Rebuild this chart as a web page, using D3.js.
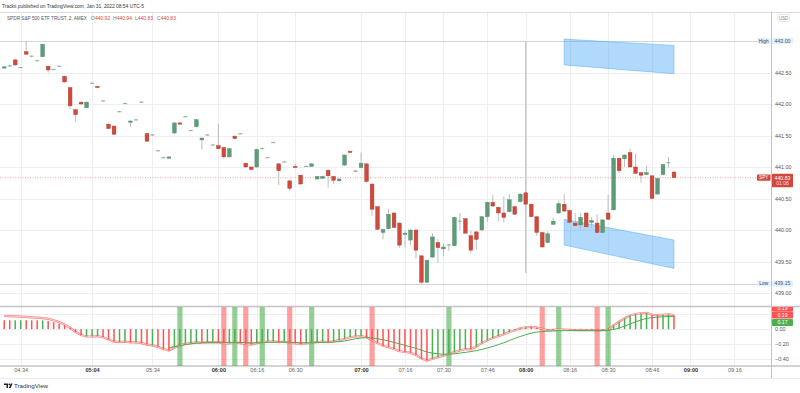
<!DOCTYPE html>
<html><head><meta charset="utf-8">
<script src="https://cdn.jsdelivr.net/npm/d3@7"></script>
<style>body{margin:0;background:#fff}svg{display:block}text{font-family:"Liberation Sans",Arial,sans-serif}</style>
</head><body><svg id="c" width="800" height="393"></svg>
<script>
// ---------- DATA ----------
const opens  = [442.57,442.60,442.70,442.58,442.83,442.76,442.69,442.75,442.60,442.55,442.60,442.44,442.26,441.91,442.03,441.94,442.33,442.28,442.05,441.68,441.65,441.88,442.01,441.71,441.75,442.03,441.53,441.51,441.26,441.15,441.14,441.54,441.70,441.80,441.58,441.64,441.43,441.51,441.35,441.34,441.31,441.16,441.49,441.53,441.06,441.00,441.00,441.29,441.15,441.39,441.05,441.08,440.78,441.01,440.87,441.01,441.01,440.81,440.82,440.95,440.85,440.78,441.03,441.25,440.94,440.99,441.05,440.73,440.37,439.96,440.02,440.27,440.11,439.93,439.84,440.00,439.59,439.17,439.57,439.80,439.70,439.76,439.75,440.14,440.18,439.91,439.97,440.00,440.21,440.44,440.36,440.27,440.29,440.37,440.45,440.59,440.41,440.21,439.96,439.80,440.09,440.27,440.41,440.31,440.11,440.08,440.27,440.12,440.11,439.96,440.27,440.32,441.14,441.13,441.23,441.00,440.91,440.88,440.86,440.57,440.88,441.07,440.92];
const highs  = [442.60,442.62,442.71,442.59,443.00,442.77,442.70,442.95,442.61,442.56,442.61,442.45,442.27,441.92,442.04,442.04,442.34,442.29,442.06,441.69,441.66,441.89,442.02,441.74,441.76,442.04,441.54,441.52,441.27,441.16,441.17,441.71,441.71,441.81,441.59,441.76,441.47,441.52,441.36,441.69,441.32,441.30,441.50,441.54,441.07,441.01,441.29,441.31,441.16,441.40,441.06,441.09,440.79,441.05,440.88,441.02,441.06,440.86,440.86,440.96,440.86,440.82,441.20,441.26,440.95,441.23,441.06,440.74,440.38,440.02,440.34,440.28,440.12,440.00,440.01,440.01,439.60,439.53,439.95,439.86,439.79,439.78,440.21,440.27,440.19,439.99,439.98,440.22,440.45,440.56,440.37,440.53,440.58,440.38,440.58,440.60,440.42,440.22,439.97,439.98,440.20,440.47,440.57,440.32,440.27,440.27,440.28,440.21,440.25,440.17,440.56,441.19,441.15,441.20,441.29,441.21,440.92,441.02,440.87,440.83,441.05,441.16,440.94];
const lows   = [442.56,442.59,442.61,442.57,442.78,442.75,442.68,442.75,442.50,442.54,442.59,442.34,441.92,441.72,441.99,441.93,442.32,442.25,442.04,441.60,441.51,441.87,442.00,441.64,441.74,442.02,441.40,441.50,441.25,441.14,441.13,441.52,441.67,441.79,441.57,441.63,441.28,441.50,441.34,441.28,441.13,441.15,441.44,441.52,440.99,440.95,440.99,441.28,441.14,441.38,440.71,441.07,440.62,440.98,440.72,441.00,441.00,440.80,440.81,440.67,440.73,440.77,441.02,441.22,440.92,440.98,440.75,440.23,440.00,439.85,440.01,440.03,439.72,439.72,439.76,439.55,439.15,439.16,439.56,439.48,439.58,439.67,439.74,440.00,439.94,439.64,439.69,439.99,440.13,440.37,440.14,440.12,440.28,440.24,440.44,440.40,440.20,439.91,439.72,439.79,440.08,440.26,440.29,440.11,440.06,440.01,440.04,440.03,439.95,439.95,440.16,440.31,440.90,441.00,440.99,440.89,440.75,440.87,440.49,440.56,440.87,440.99,440.83];
const closes = [442.59,442.61,442.62,442.585,442.79,442.765,442.695,442.95,442.54,442.555,442.605,442.35,441.97,441.83,442.00,442.03,442.335,442.26,442.055,441.61,441.52,441.885,442.015,441.73,441.755,442.035,441.41,441.515,441.265,441.155,441.16,441.70,441.68,441.805,441.585,441.75,441.46,441.515,441.355,441.29,441.16,441.29,441.45,441.535,441.00,440.96,441.28,441.30,441.155,441.395,440.94,441.085,440.66,440.99,440.73,441.015,441.05,440.85,440.85,440.86,440.79,440.81,441.19,441.23,440.93,441.06,440.77,440.33,440.01,440.01,440.25,440.04,439.76,439.95,440.00,439.68,439.17,439.52,439.89,439.72,439.73,439.77,440.20,440.145,439.95,439.68,439.85,440.21,440.44,440.38,440.27,440.20,440.48,440.25,440.57,440.41,440.21,439.96,439.73,439.94,440.14,440.42,440.30,440.12,440.07,440.20,440.05,440.15,439.96,440.16,440.17,441.14,440.94,441.19,441.00,440.90,440.87,440.91,440.50,440.82,441.04,441.075,440.83];

const oscBars = [0.12,0.12,0.12,0.12,0.12,0.12,0.12,0.12,0.11,0.095,0.075,0.05,0.02,
  -0.04,-0.08,-0.10,-0.10,-0.095,-0.11,-0.14,-0.17,-0.175,-0.17,-0.18,-0.18,-0.19,-0.21,-0.22,-0.24,-0.27,-0.29,
  -0.25,-0.22,-0.20,-0.19,-0.18,-0.185,-0.18,-0.175,-0.18,-0.19,-0.195,-0.185,-0.19,-0.20,-0.21,-0.19,-0.175,-0.17,-0.165,-0.175,-0.17,-0.185,-0.195,-0.205,-0.195,-0.185,-0.175,-0.17,-0.175,-0.165,-0.15,-0.13,-0.11,-0.10,
  -0.095,-0.11,-0.15,-0.19,-0.225,-0.245,-0.27,-0.30,-0.31,-0.32,-0.35,-0.40,-0.425,-0.40,-0.38,-0.36,-0.34,-0.31,-0.29,-0.27,-0.275,-0.235,-0.19,-0.15,-0.12,-0.095,-0.07,-0.04,-0.015,
  0.01,0.025,0.03,0.02,0.005,-0.015,-0.01,-0.005,-0.005,-0.01,-0.015,-0.01,-0.015,-0.01,-0.02,-0.015,-0.01,0.05,0.10,0.145,0.185,0.205,0.215,0.22,0.195,0.19,0.195,0.2,0.19];
const oscBarColors = "rrggrrrgrrrrr" + "rrgggrrrggrgrrgrrr" + "gggggrggrrggrrrggggrgrrrggggrggggg" + "grrrrrrrrrrrrgggggggrgggggggg" + "ggrrrrgggrrgrgrgggggggggrrggr";
const oscLeadLine = [0.18,0.177,0.173,0.17,0.165,0.16,0.155,0.15,0.14,0.12,0.095,0.06,0.02];
const signalFirstIdx = 30;
const signalVals = [-0.25,-0.24,-0.225,-0.21,-0.20,-0.19,-0.185,-0.182,-0.18,-0.18,-0.18,-0.18,-0.18,-0.18,-0.182,-0.185,-0.185,-0.183,-0.18,-0.178,-0.176,-0.176,-0.178,-0.18,-0.183,-0.185,-0.185,-0.183,-0.18,-0.178,-0.175,-0.17,-0.16,-0.145,-0.13,-0.12,-0.115,-0.12,-0.13,-0.145,-0.16,-0.18,-0.20,-0.22,-0.24,-0.26,-0.285,-0.31,-0.325,-0.335,-0.34,-0.34,-0.335,-0.325,-0.315,-0.305,-0.29,-0.275,-0.255,-0.235,-0.21,-0.185,-0.155,-0.125,-0.10,-0.075,-0.055,-0.04,-0.032,-0.028,-0.025,-0.022,-0.02,-0.02,-0.02,-0.02,-0.02,-0.02,-0.02,-0.018,-0.015,-0.005,0.015,0.04,0.07,0.10,0.125,0.145,0.155,0.162,0.167,0.17,0.17];
const bandIdx = [32,40,42,44,47,52,56,67,81,98,101,108,110];
const bandColors = "grgrgrgrgrgrg";

const timeTickIdx = [3,16,27,39,46,53,65,73,80,88,95,103,110,118,125,133];
const timeTickLabels = ["04:34","05:04","05:34","06:00","06:16","06:30","07:00","07:16","07:30","07:46","08:00","08:16","08:30","08:46","09:00","09:16"];
const boldTimeLabels = ["05:04","06:00","07:00","08:00","09:00"];
const priceTicks = [439,439.5,440,440.5,441,441.5,442,442.5,443];
const oscGrid = [0.2,0,-0.2,-0.4];
const oscTickLabels = [0,-0.2,-0.4];

const upperBox = [[102,443.03],[122,442.93],[122,442.48],[102,442.62]];
const lowerBox = [[102,440.17],[122,439.84],[122,439.39],[102,439.76]];
const vLine = [95, 443.0, 439.32];
const highVal = 443.00, lowVal = 439.15, lastPrice = 440.83;

// ---------- DRAW ----------
const svg = d3.select("#c");
const R = 771, mainTop = 12, mainBot = 306, oscTop = 307, oscBot = 366;
const x = d3.scaleLinear().domain([0,122]).range([4.23, 674]);
const y = d3.scaleLinear().domain([439,443]).range([293,41]);
const yo = d3.scaleLinear().domain([-0.5,0.3]).range([oscBot, oscTop]);
const GREEN="#5e9c77", RED="#cf4a3c", OG="#4caf50", OR="#ff5252";

const defs = svg.append("defs");
defs.append("clipPath").attr("id","cm").append("rect").attr("x",0).attr("y",mainTop).attr("width",R).attr("height",mainBot-mainTop);
defs.append("clipPath").attr("id","co").append("rect").attr("x",0).attr("y",oscTop).attr("width",R).attr("height",oscBot-oscTop);
defs.append("clipPath").attr("id","cl").append("rect").attr("x",R).attr("y",oscTop).attr("width",29).attr("height",oscBot-oscTop);

// grid
const grid = svg.append("g");
grid.selectAll(".vg").data(timeTickIdx).join("line")
  .attr("x1",d=>Math.round(x(d))+0.5).attr("x2",d=>Math.round(x(d))+0.5)
  .attr("y1",mainTop).attr("y2",oscBot).attr("stroke","#edeff3").attr("stroke-width",1);
grid.selectAll(".hg").data(priceTicks).join("line")
  .attr("x1",0).attr("x2",R).attr("y1",d=>Math.round(y(d))+0.5).attr("y2",d=>Math.round(y(d))+0.5)
  .attr("stroke","#edeff3");
grid.selectAll(".og").data(oscGrid).join("line")
  .attr("x1",0).attr("x2",R).attr("y1",d=>Math.round(yo(d))+0.5).attr("y2",d=>Math.round(yo(d))+0.5)
  .attr("stroke","#edeff3");

// frame lines
svg.append("line").attr("x1",0).attr("x2",800).attr("y1",12.5).attr("y2",12.5).attr("stroke","#dcdcdc");
svg.append("line").attr("x1",0).attr("x2",800).attr("y1",306.5).attr("y2",306.5).attr("stroke","#c4c4c4").attr("stroke-width",1.6);
svg.append("line").attr("x1",0).attr("x2",800).attr("y1",366).attr("y2",366).attr("stroke","#c4c4c4").attr("stroke-width",1.4);
svg.append("line").attr("x1",0).attr("x2",800).attr("y1",378.5).attr("y2",378.5).attr("stroke","#ececec");
svg.append("line").attr("x1",R+0.5).attr("x2",R+0.5).attr("y1",12).attr("y2",378).attr("stroke","#c4c4c4");

const main = svg.append("g").attr("clip-path","url(#cm)");
// high / low lines
[highVal, lowVal].forEach(v=>{
  main.append("line").attr("x1",0).attr("x2",R).attr("y1",Math.round(y(v))+0.5).attr("y2",Math.round(y(v))+0.5).attr("stroke","#d4d4d4");
});
// last price dotted line
main.append("line").attr("x1",0).attr("x2",R).attr("y1",y(lastPrice)).attr("y2",y(lastPrice))
  .attr("stroke","#ec8f84").attr("stroke-width",0.8).attr("stroke-dasharray","1,1.5");

// blue boxes
[upperBox, lowerBox].forEach(b=>{
  main.append("path").attr("d", d3.line().x(d=>x(d[0])).y(d=>y(d[1]))(b)+"Z")
    .attr("fill","rgba(66,165,245,0.42)").attr("stroke","rgba(66,165,245,0.55)").attr("stroke-width",0.8);
});
// vertical line
main.append("line").attr("x1",x(vLine[0])).attr("x2",x(vLine[0])).attr("y1",y(vLine[1])).attr("y2",y(vLine[2]))
  .attr("stroke","#c9c9c9").attr("stroke-width",1.6);

// candles
const idx = d3.range(opens.length);
const cg = main.append("g");
cg.selectAll(".w").data(idx).join("line")
  .attr("x1",i=>x(i)).attr("x2",i=>x(i)).attr("y1",i=>y(highs[i])).attr("y2",i=>y(lows[i]))
  .attr("stroke","#b5b5b5").attr("stroke-width",0.9);
cg.selectAll(".b").data(idx).join("rect")
  .attr("x",i=>x(i)-1.9).attr("width",3.8)
  .attr("y",i=>y(Math.max(opens[i],closes[i])))
  .attr("height",i=>Math.max(0.9, Math.abs(y(opens[i])-y(closes[i]))))
  .attr("fill",i=>closes[i]>=opens[i]?GREEN:RED)
  .attr("fill-opacity",i=>Math.abs(y(opens[i])-y(closes[i]))<1.2?0.6:1)
  .attr("stroke",i=>closes[i]>=opens[i]?"#4f8a67":"#b53d31").attr("stroke-width",0.4)
  .attr("stroke-opacity",i=>Math.abs(y(opens[i])-y(closes[i]))<1.2?0.3:1);

// oscillator
const og = svg.append("g").attr("clip-path","url(#co)");
og.selectAll(".band").data(bandIdx).join("rect")
  .attr("x",d=>x(d)-2.6).attr("width",5.2).attr("y",oscTop).attr("height",oscBot-oscTop)
  .attr("fill",(d,i)=>bandColors[i]==="g"?"rgba(76,175,80,0.6)":"rgba(255,82,82,0.55)");
const redLineVals = idx.map(i=> i<oscLeadLine.length ? oscLeadLine[i] : oscBars[i]);
const lineGen = d3.line().x((d,i)=>x(i)).y(d=>yo(d));
og.append("path").attr("d",lineGen(redLineVals)).attr("fill","none").attr("stroke","rgba(255,82,82,0.75)").attr("stroke-width",2.2);
og.append("path").attr("d",lineGen(redLineVals)).attr("fill","none").attr("stroke","#ffe3e3").attr("stroke-width",0.8);
og.append("path").attr("d", d3.line().x((d,i)=>x(i+signalFirstIdx)).y(d=>yo(d))(signalVals))
  .attr("fill","none").attr("stroke",OG).attr("stroke-width",1);
og.selectAll(".hb").data(idx).join("rect")
  .attr("x",i=>x(i)-0.75).attr("width",1.5)
  .attr("y",i=>Math.min(yo(0),yo(oscBars[i]))).attr("height",i=>Math.abs(yo(0)-yo(oscBars[i])))
  .attr("fill",i=>oscBarColors[i]==="g"?OG:OR);

// price axis
const pa = svg.append("g").attr("transform",`translate(${R},0)`)
  .call(d3.axisRight(y).tickValues(priceTicks).tickFormat(d3.format(".2f")).tickSize(0).tickPadding(4));
pa.select(".domain").remove();
pa.selectAll("text").attr("font-size",5.4).attr("fill","#555").attr("font-family","Liberation Sans, Arial");
const oa = svg.append("g").attr("transform",`translate(${R},0)`)
  .call(d3.axisRight(yo).tickValues(oscTickLabels).tickFormat(d3.format(".2f")).tickSize(0).tickPadding(4));
oa.select(".domain").remove();
oa.selectAll("text").attr("font-size",5.4).attr("fill","#555").attr("font-family","Liberation Sans, Arial");

// time axis
const ta = svg.append("g").attr("transform",`translate(0,${oscBot})`)
  .call(d3.axisBottom(x).tickValues(timeTickIdx).tickFormat((d,i)=>timeTickLabels[i]).tickSize(0).tickPadding(2.5));
ta.select(".domain").remove();
ta.selectAll("text").attr("font-size",5.6).attr("font-family","Liberation Sans, Arial")
  .attr("fill",(d,i)=>boldTimeLabels.includes(timeTickLabels[i])?"#333":"#666")
  .attr("font-weight",(d,i)=>boldTimeLabels.includes(timeTickLabels[i])?"bold":"normal");

// labels on the price scale
function tag(g, x0, w, yc, h, fill, txt, col, fs){
  g.append("rect").attr("x",x0).attr("y",yc-h/2).attr("width",w).attr("height",h).attr("fill",fill).attr("rx",0.8);
  g.append("text").attr("x",x0+w/2).attr("y",yc).attr("dy","0.35em").attr("text-anchor","middle")
    .attr("font-size",fs||5.2).attr("fill",col).text(txt);
}
const lg = svg.append("g");
tag(lg, 757, 13.5, y(highVal), 5.8, "#e3effc", "High", "#345", 4.8);
tag(lg, 772, 21, y(highVal), 6.2, "#e3effc", d3.format(".2f")(highVal), "#456", 5.2);
tag(lg, 757, 13.5, y(lowVal), 5.8, "#e3effc", "Low", "#345", 4.8);
tag(lg, 772, 21, y(lowVal), 6.2, "#e3effc", d3.format(".2f")(lowVal), "#456", 5.2);
tag(lg, 757, 13.5, y(lastPrice), 6.2, "#d2493c", "SPY", "#fff", 4.8);
lg.append("rect").attr("x",772).attr("y",y(lastPrice)-4).attr("width",21).attr("height",13.5).attr("fill","#d2493c").attr("rx",0.8);
lg.append("text").attr("x",782.5).attr("y",y(lastPrice)).attr("dy","0.35em").attr("text-anchor","middle").attr("font-size",5.2).attr("fill","#fff").text(d3.format(".2f")(lastPrice));
lg.append("text").attr("x",782.5).attr("y",y(lastPrice)+6).attr("dy","0.35em").attr("text-anchor","middle").attr("font-size",5).attr("fill","#fde").text("01:08");
// USD
lg.append("rect").attr("x",777.5).attr("y",14.5).attr("width",12).attr("height",7).attr("fill","#fff").attr("stroke","#d8d8d8").attr("stroke-width",0.6).attr("rx",1);
lg.append("text").attr("x",783.5).attr("y",18).attr("dy","0.35em").attr("text-anchor","middle").attr("font-size",4.6).attr("fill","#888").text("USD");
// oscillator last-value labels
const ol = svg.append("g").attr("clip-path","url(#cl)");
const lastBar = oscBars[oscBars.length-1], lastSig = signalVals[signalVals.length-1];
tag(ol, 772, 21, yo(lastBar)-7, 7, "#ff5252", d3.format(".2f")(lastBar), "#fff", 5.2);
tag(ol, 772, 21, yo(lastBar), 7, "#ff5252", d3.format(".2f")(lastBar), "#fff", 5.2);
tag(ol, 772, 21, yo(lastBar)+7.3, 7, "#4caf50", d3.format(".2f")(lastSig), "#fff", 5.2);

// header texts
svg.append("text").attr("x",2).attr("y",8).attr("font-size",5).attr("fill","#333")
  .attr("textLength",142).attr("lengthAdjust","spacingAndGlyphs")
  .text("Tracks published on TradingView.com, Jan 31, 2022 08:54 UTC-5");
svg.append("text").attr("x",7).attr("y",20.2).attr("font-size",5).attr("fill","#555")
  .attr("textLength",80).attr("lengthAdjust","spacingAndGlyphs")
  .text("SPDR S&P 500 ETF TRUST, 2, AMEX");
const ohlcNames = ["O","H","L","C"], ohlcVals = [opens[122],highs[122],lows[122],closes[122]];
const ohlcX = [91,113,135,157];
ohlcNames.forEach((n,i)=>{
  const t = svg.append("text").attr("x",ohlcX[i]).attr("y",20.2).attr("font-size",5);
  t.append("tspan").attr("fill","#777").text(n);
  t.append("tspan").attr("fill","#d2493c").text(d3.format(".2f")(ohlcVals[i]));
});

// TradingView logo
const logo = svg.append("g");
logo.append("path").attr("d","M4,383.5h4v4.5h-1.5v-3h-2.5z").attr("fill","#222");
logo.append("circle").attr("cx",9.3).attr("cy",384.3).attr("r",0.9).attr("fill","#222");
logo.append("path").attr("d","M10.8,383.5h1.8l-2,4.5h-1.8z").attr("fill","#222");
logo.append("text").attr("x",14).attr("y",388).attr("font-size",6.2).attr("fill","#333").text("TradingView");
</script></body></html>
